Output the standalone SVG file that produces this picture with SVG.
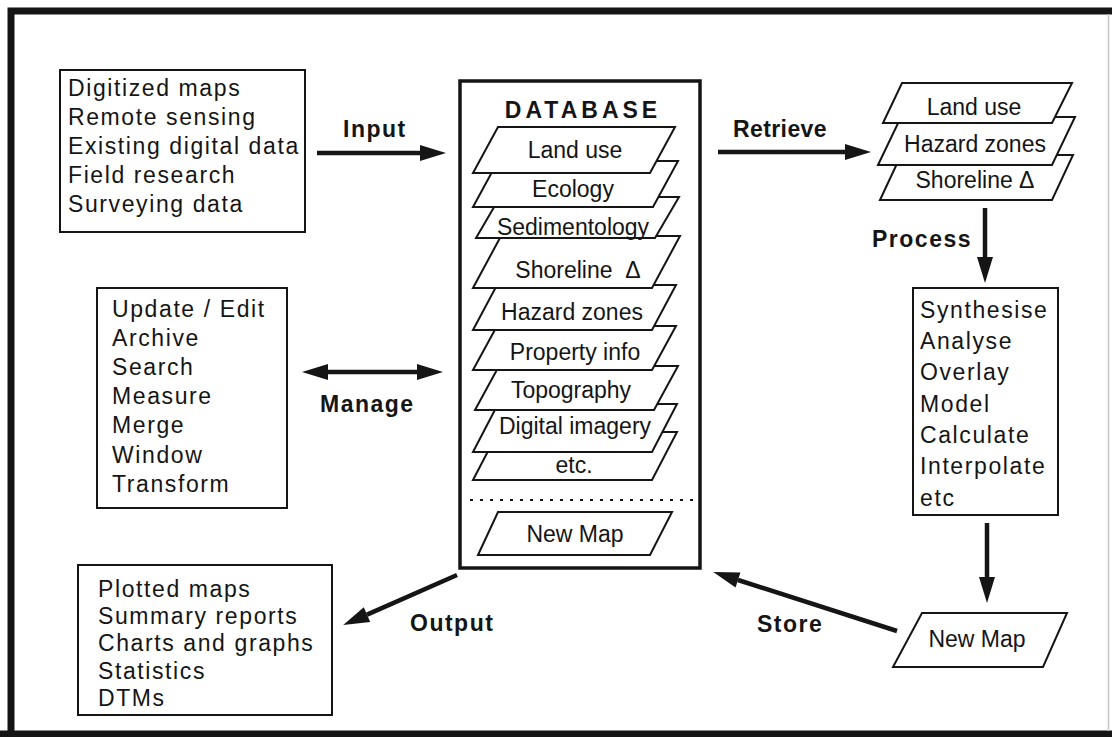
<svg xmlns="http://www.w3.org/2000/svg" width="1112" height="737" viewBox="0 0 1112 737">
  <defs>
    <style>
      .frame { fill: none; stroke: #151515; stroke-width: 7; }
      .box { fill: #fff; stroke: #151515; stroke-width: 2; }
      .db { fill: #fff; stroke: #151515; stroke-width: 3.5; }
      .layer { fill: #fff; stroke: #151515; stroke-width: 2; stroke-linejoin: miter; }
      .txt { font-family: "Liberation Sans", Arial, sans-serif; font-size: 23px; fill: #151515; letter-spacing: 1.6px; }
      .ltxt { font-family: "Liberation Sans", Arial, sans-serif; font-size: 23px; fill: #151515; text-anchor: middle; }
      .lbl { font-family: "Liberation Sans", Arial, sans-serif; font-size: 23px; font-weight: bold; fill: #151515; letter-spacing: 1.5px; }
      .title { font-family: "Liberation Sans", Arial, sans-serif; font-size: 23px; font-weight: bold; fill: #151515; letter-spacing: 4px; text-anchor: middle; }
      .arrow { fill: none; stroke: #151515; stroke-width: 4.5; }
      .dots { fill: none; stroke: #151515; stroke-width: 2; stroke-dasharray: 3 7; }
    </style>
    <marker id="head" markerUnits="userSpaceOnUse" markerWidth="26" markerHeight="16" refX="0" refY="8" orient="auto-start-reverse" overflow="visible">
      <path d="M0,0 L26,8 L0,16 Z" fill="#151515"/>
    </marker>
  </defs>

  <rect width="1112" height="737" fill="#fff"/>

  <!-- outer frame -->
  <g id="frame">
    <path class="frame" d="M11,737 L11,11 L1112,11"/>
    <line class="frame" x1="0" y1="734" x2="1112" y2="734"/>
    <line x1="1108.5" y1="14" x2="1108.5" y2="731" stroke="#c8c8c8" stroke-width="1.5"/>
  </g>

  <!-- data sources -->
  <g id="inputs">
    <rect class="box" x="60" y="70" width="245" height="162"/>
    <text class="txt" x="68" y="96">Digitized maps</text>
    <text class="txt" x="68" y="125">Remote sensing</text>
    <text class="txt" x="68" y="154">Existing digital data</text>
    <text class="txt" x="68" y="183">Field research</text>
    <text class="txt" x="68" y="212">Surveying data</text>
  </g>

  <!-- management functions -->
  <g id="manage-ops">
    <rect class="box" x="97" y="288" width="190" height="220"/>
    <text class="txt" x="112" y="317">Update / Edit</text>
    <text class="txt" x="112" y="346">Archive</text>
    <text class="txt" x="112" y="375">Search</text>
    <text class="txt" x="112" y="404">Measure</text>
    <text class="txt" x="112" y="433">Merge</text>
    <text class="txt" x="112" y="463">Window</text>
    <text class="txt" x="112" y="492">Transform</text>
  </g>

  <!-- output products -->
  <g id="outputs">
    <rect class="box" x="78" y="565" width="254" height="150"/>
    <text class="txt" x="98" y="597">Plotted maps</text>
    <text class="txt" x="98" y="624">Summary reports</text>
    <text class="txt" x="98" y="651">Charts and graphs</text>
    <text class="txt" x="98" y="679">Statistics</text>
    <text class="txt" x="98" y="706">DTMs</text>
  </g>

  <!-- database with stacked layers (drawn bottom-up so upper layers overlap) -->
  <g id="database">
    <rect class="db" x="460" y="81" width="240" height="487"/>
    <text class="title" x="583" y="118">DATABASE</text>
    <polygon class="layer" points="473,480 498,432 677,432 652,480"/>
    <text class="ltxt" x="574" y="473">etc.</text>
    <polygon class="layer" points="473,452 498,404 677,404 652,452"/>
    <text class="ltxt" x="575" y="434">Digital imagery</text>
    <polygon class="layer" points="475,410 499,366 678,366 654,410"/>
    <text class="ltxt" x="571" y="398">Topography</text>
    <polygon class="layer" points="473,370 497,326 676,326 652,370"/>
    <text class="ltxt" x="575" y="360">Property info</text>
    <polygon class="layer" points="473,330 497,285 676,285 652,330"/>
    <text class="ltxt" x="572" y="320">Hazard zones</text>
    <polygon class="layer" points="473,288 501,236 680,236 652,288"/>
    <text class="ltxt" x="578" y="278" xml:space="preserve">Shoreline  Δ</text>
    <polygon class="layer" points="476,238 500,197 679,197 655,238"/>
    <text class="ltxt" x="573" y="235">Sedimentology</text>
    <polygon class="layer" points="473,207 498,161 678,161 653,207"/>
    <text class="ltxt" x="573" y="197">Ecology</text>
    <polygon class="layer" points="473,173 498,127 675,127 650,173"/>
    <text class="ltxt" x="575" y="158">Land use</text>
    <line class="dots" x1="470" y1="500" x2="698" y2="500"/>
    <polygon class="layer" points="478,555 498,512 672,512 650,555"/>
    <text class="ltxt" x="575" y="542">New Map</text>
  </g>

  <!-- retrieved layers -->
  <g id="retrieved">
    <polygon class="layer" points="880,200 901,155 1073,155 1052,200"/>
    <text class="ltxt" x="975" y="188">Shoreline Δ</text>
    <polygon class="layer" points="878,165 901,117 1075,117 1052,165"/>
    <text class="ltxt" x="975" y="152">Hazard zones</text>
    <polygon class="layer" points="883,123 902,83 1072,83 1052,123"/>
    <text class="ltxt" x="974" y="115">Land use</text>
  </g>

  <!-- processing functions -->
  <g id="process-ops">
    <rect class="box" x="913" y="288" width="145" height="227"/>
    <text class="txt" x="920" y="318">Synthesise</text>
    <text class="txt" x="920" y="349">Analyse</text>
    <text class="txt" x="920" y="380">Overlay</text>
    <text class="txt" x="920" y="412">Model</text>
    <text class="txt" x="920" y="443">Calculate</text>
    <text class="txt" x="920" y="474">Interpolate</text>
    <text class="txt" x="920" y="506">etc</text>
  </g>

  <!-- new map result -->
  <g id="new-map">
    <polygon class="layer" points="893,667 922,613 1067,613 1043,667"/>
    <text class="ltxt" x="977" y="647">New Map</text>
  </g>

  <!-- connectors -->
  <g id="connectors">
    <line class="arrow" x1="317" y1="153" x2="420" y2="153" marker-end="url(#head)"/>
    <line class="arrow" x1="718" y1="152" x2="845" y2="152" marker-end="url(#head)"/>
    <line class="arrow" x1="328" y1="372" x2="417" y2="372" marker-start="url(#head)" marker-end="url(#head)"/>
    <line class="arrow" x1="985" y1="208" x2="985" y2="257" marker-end="url(#head)"/>
    <line class="arrow" x1="987" y1="523" x2="987" y2="577" marker-end="url(#head)"/>
    <line class="arrow" x1="897" y1="631" x2="738" y2="580" marker-end="url(#head)"/>
    <line class="arrow" x1="457" y1="575" x2="367" y2="614.6" marker-end="url(#head)"/>
  </g>

  <!-- connector labels -->
  <g id="labels">
    <text class="lbl" x="343" y="137">Input</text>
    <text class="lbl" x="733" y="137" style="letter-spacing:0.4px">Retrieve</text>
    <text class="lbl" x="320" y="412">Manage</text>
    <text class="lbl" x="872" y="247">Process</text>
    <text class="lbl" x="410" y="631">Output</text>
    <text class="lbl" x="757" y="632">Store</text>
  </g>
</svg>
